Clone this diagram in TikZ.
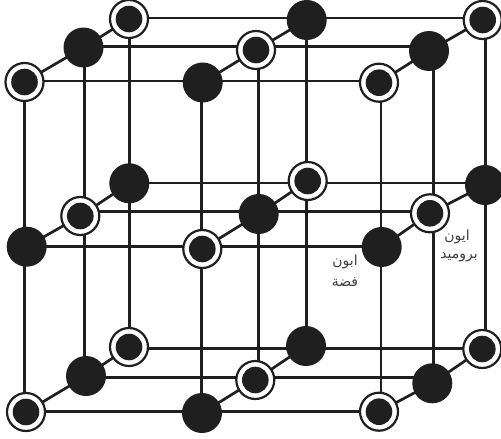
\documentclass[tikz,border=0pt]{standalone}
\usepackage{fontspec}
\usetikzlibrary{backgrounds}
\TeXXeTstate=1
\newfontfamily\arabicfont[Script=Arabic]{DejaVu Sans}
\tikzset{
  x=1pt,y=-1pt,
  solidion/.style={circle,fill=black!88,draw=none,inner sep=0pt,minimum size=40pt},
  ringion/.style={circle,fill=white,draw=black!88,line width=2.2pt,inner sep=0pt,minimum size=38pt,
    path picture={\fill[black!88] (path picture bounding box.center) circle (13.3pt);}},
  bond/.style={draw=black!88,line width=2.7pt},
  lbl/.style={inner sep=0pt,font=\arabicfont\fontsize{14}{16}\selectfont,text=black!75}
}
\begin{document}
\begin{tikzpicture}
\useasboundingbox (0,0) rectangle (501,439);
% top layer
\node[ringion]  (tf1) at (24.5,82) {};
\node[solidion] (tf2) at (202.7,82.5) {};
\node[ringion]  (tf3) at (379,82.7) {};
\node[solidion] (tc1) at (83.5,47.5) {};
\node[ringion]  (tc2) at (256,50) {};
\node[solidion] (tc3) at (429,51) {};
\node[ringion]  (tk1) at (129,19) {};
\node[solidion] (tk2) at (306.7,20) {};
\node[ringion]  (tk3) at (482.7,20) {};
% middle layer
\node[solidion] (mf1) at (26.7,246.7) {};
\node[ringion]  (mf2) at (202.3,249) {};
\node[solidion] (mf3) at (381.7,247) {};
\node[ringion]  (mc1) at (80.3,216) {};
\node[solidion] (mc2) at (258.7,214) {};
\node[ringion]  (mc3) at (430,213.3) {};
\node[solidion] (mk1) at (129.3,183.3) {};
\node[ringion]  (mk2) at (307.7,181) {};
\node[solidion] (mk3) at (485,185) {};
% bottom layer
\node[ringion]  (bf1) at (26,412) {};
\node[solidion] (bf2) at (202,413) {};
\node[ringion]  (bf3) at (379,411.7) {};
\node[solidion] (bc1) at (86,376) {};
\node[ringion]  (bc2) at (255.3,380) {};
\node[solidion] (bc3) at (432.3,383.3) {};
\node[ringion]  (bk1) at (129,347) {};
\node[solidion] (bk2) at (306,346) {};
\node[ringion]  (bk3) at (482.3,349) {};
% guide positions of the straight bonds
\foreach \n/\v in {f1/24.5,f2/201.5,f3/381,c1/84.5,c2/258.3,c3/433.3,k1/129.3,k2/306.2,k3/485.7}
  {\coordinate (x\n) at (\v,0);}
\foreach \n/\v in {tf/81,tc/46.7,tk/18,mf/246.7,mc/211.7,mk/183,bf/411.7,bc/377.3,bk/348.3}
  {\coordinate (y\n) at (0,\v);}
\begin{scope}[on background layer]
\foreach \l in {t,m,b}{
  \foreach \r in {f,c,k}{
    \draw[bond] (\l\r1.center |- y\l\r) -- (\l\r3.center |- y\l\r);
  }
  \foreach \c in {1,2,3}{
    \draw[bond] (\l f\c.center) -- (\l c\c.center) -- (\l k\c.center);
  }
}
\foreach \r in {f,c,k}{
  \foreach \c in {1,2,3}{
    \draw[bond] (x\r\c |- t\r\c.center) -- (x\r\c |- b\r\c.center);
  }
}
\end{scope}
\node[lbl] (silverA) at (345,262) {\beginR ابون\endR};
\node[lbl] (silverB) at (345,282) {\beginR فضة\endR};
\node[lbl] (bromA) at (457,237) {\beginR ايون\endR};
\node[lbl] (bromB) at (459,257) {\beginR بروميد\endR};
\end{tikzpicture}
\end{document}
